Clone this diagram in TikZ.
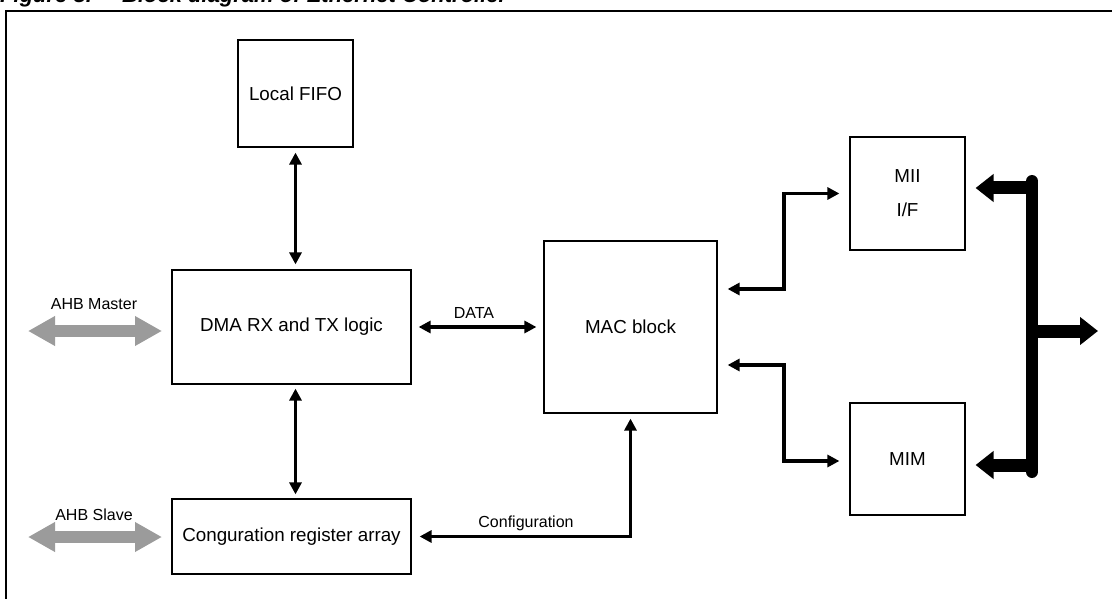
\documentclass[tikz,border=0pt]{standalone}
\usepackage{fontspec}
\setmainfont{Liberation Sans}
\usetikzlibrary{arrows.meta}
\definecolor{ahbgray}{RGB}{155,155,155}

\begin{document}
\begin{tikzpicture}[x=1pt, y=-1pt,
  block/.style={draw, line width=1.2pt, inner sep=0pt, align=center, font=\fontsize{18.8}{34}\selectfont},
  lbl/.style={inner sep=0pt, font=\fontsize{16}{19}\selectfont},
  biarrow/.style={line width=3.8pt, {Triangle[length=12pt,width=12pt]}-{Triangle[length=12pt,width=12pt]}},
  ahb/.style={draw=ahbgray, line width=12pt, {Triangle[length=27pt,width=28pt]}-{Triangle[length=27pt,width=28pt]}},
  busline/.style={line width=12pt, line cap=round},
  busarrow/.style={line width=13pt, -{Triangle[length=18pt,width=27pt]}}]

\useasboundingbox (0,0) rectangle (1112,599);
\clip (0,0) rectangle (1112,599);

% title and frame
\node[anchor=base west, inner sep=0pt, font=\fontsize{22}{26}\selectfont\bfseries\itshape] (fig) at (0,3) {Figure 8.};
\node[anchor=base west, inner sep=0pt, font=\fontsize{22}{26}\selectfont\bfseries\itshape] (title) at (122,3) {Block diagram of Ethernet Controller};
\draw[line width=2pt] (6,11) rectangle (1140,640);

% blocks
\node[block, minimum width=115pt, minimum height=107pt] (fifo) at (295.5,93.5) {Local FIFO};
\node[block, minimum width=239pt, minimum height=114pt] (dma) at (291.5,327) {DMA RX and TX logic};
\node[block, minimum width=239pt, minimum height=75pt] (cfg) at (291.5,536.5) {Conguration register array};
\node[block, minimum width=173pt, minimum height=172pt] (mac) at (630.5,327) {MAC block};
\node[block, minimum width=115pt, minimum height=113pt] (mii) at (907.5,193.5) {MII\\I/F};
\node[block, minimum width=115pt, minimum height=112pt] (mim) at (907.5,459) {MIM};

% AHB side
\coordinate (ahbm) at (28,331);
\coordinate (ahbs) at (28,537);
\node[lbl] (ahbmlbl) at (94,304) {AHB Master};
\node[lbl] (ahbslbl) at (94,515) {AHB Slave};
\draw[ahb] (ahbm) -- (ahbm -| {162,0});
\draw[ahb] (ahbs) -- (ahbs -| {162,0});

\draw[biarrow] ([yshift=-5pt]fifo.south) -- ([yshift=5pt]fifo.south |- dma.north);
\draw[biarrow] ([yshift=-4pt]fifo.south |- dma.south) -- ([yshift=4pt]fifo.south |- cfg.north);

\draw[biarrow] ([xshift=7pt]dma.east) -- ([xshift=-7pt]mac.west);
\node[lbl] (datalbl) at (474,313) {DATA};

\draw[biarrow] ([xshift=8pt]cfg.east) -| ([yshift=-5pt]mac.south);
\node[lbl] (cfglbl) at (526,523) {Configuration};

\draw[biarrow] ([xshift=10pt,yshift=38pt]mac.east) -- ++(56,0) |- ([xshift=-10pt]mii.west);
\draw[biarrow] ([xshift=10pt,yshift=-38pt]mac.east) -- ++(56,0) |- ([xshift=-10pt,yshift=-2pt]mim.west);

% bus
\coordinate (bustop) at (1032,181);
\coordinate (busbot) at (1032,472);
\coordinate (busout) at (1098,331);
\draw[busline] (bustop) -- (busbot);
\draw[busarrow] (bustop |- {0,188}) -- ([xshift=10pt,yshift=5.5pt]mii.east);
\draw[busarrow] (bustop |- {0,465}) -- ([xshift=10pt,yshift=-6pt]mim.east);
\draw[busarrow] (bustop |- busout) -- (busout);
\end{tikzpicture}
\end{document}
